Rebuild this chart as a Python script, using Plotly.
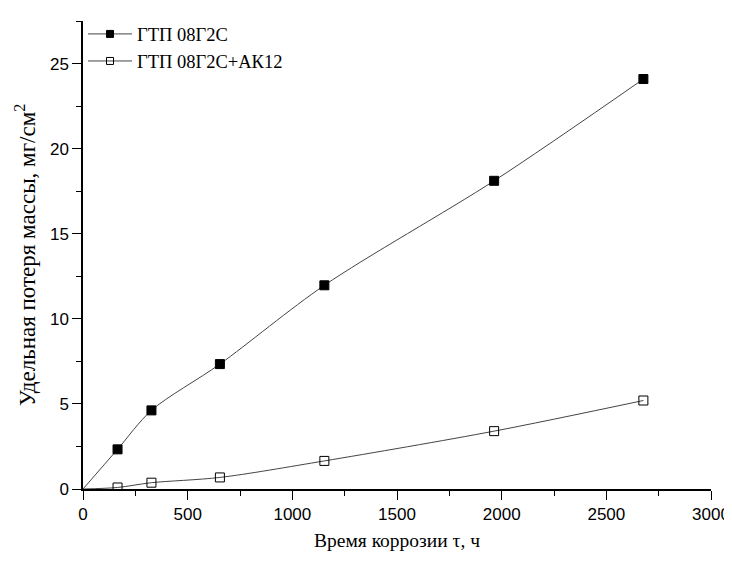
import plotly.graph_objects as go

time_h = [165, 327, 654, 1153, 1964, 2677]
loss_08g2s = [2.33, 4.62, 7.34, 11.97, 18.11, 24.09]
loss_08g2s_ak12 = [0.09, 0.37, 0.68, 1.65, 3.4, 5.2]
names = ["ГТП 08Г2С", "ГТП 08Г2С+АК12"]
symbols = ["square", "square-open"]
series = [loss_08g2s, loss_08g2s_ak12]

fig = go.Figure()
for name, sym, ys in zip(names, symbols, series):
    # smooth curve from origin
    fig.add_trace(go.Scatter(
        x=[0] + time_h, y=[0] + ys, mode="lines", showlegend=False,
        line=dict(color="#444444", width=1, shape="spline", smoothing=0.85),
        hoverinfo="skip",
    ))
    # measured points
    fig.add_trace(go.Scatter(
        x=time_h, y=ys, mode="markers", showlegend=False, name=name,
        marker=dict(symbol=sym, size=9, color="black", line=dict(color="black", width=1)),
    ))
    # legend entry
    fig.add_trace(go.Scatter(
        x=[None], y=[None], mode="lines+markers", name=name,
        line=dict(color="#444444", width=1),
        marker=dict(symbol=sym, size=7, color="black", line=dict(color="black", width=1)),
    ))

fig.update_layout(
    width=732, height=564,
    margin=dict(l=75, r=29, t=7, b=83),
    plot_bgcolor="white", paper_bgcolor="white",
    font=dict(family="Liberation Sans", size=16, color="black"),
    showlegend=True,
    legend=dict(x=0.0, y=1.012, xanchor="left", yanchor="top",
                bgcolor="rgba(0,0,0,0)", font=dict(family="Liberation Serif", size=18.5),
                tracegroupgap=0, itemwidth=44),
)
fig.update_xaxes(
    range=[0, 3000], tickvals=[0, 500, 1000, 1500, 2000, 2500, 3000],
    showline=True, linecolor="black", linewidth=1.5, ticks="outside", ticklen=9,
    tickwidth=1.2, tickcolor="black", showgrid=False, zeroline=False, automargin=False,
    tickfont=dict(size=17),
    minor=dict(dtick=250, ticks="outside", ticklen=5, tickcolor="black", showgrid=False),
    title=dict(text="Время коррозии τ, ч", font=dict(family="Liberation Serif", size=19.5), standoff=10),
)
fig.update_yaxes(
    range=[0, 27.5], tickvals=[0, 5, 10, 15, 20, 25],
    showline=True, linecolor="black", linewidth=1.5, ticks="outside", ticklen=9,
    tickwidth=1.2, tickcolor="black", showgrid=False, zeroline=False, automargin=False,
    tickfont=dict(size=17),
    minor=dict(dtick=2.5, ticks="outside", ticklen=5, tickcolor="black", showgrid=False),
    title=dict(text="Удельная потеря массы, мг/см<sup>2</sup>", font=dict(family="Liberation Serif", size=23), standoff=8),
)
fig.write_html("out.html")
